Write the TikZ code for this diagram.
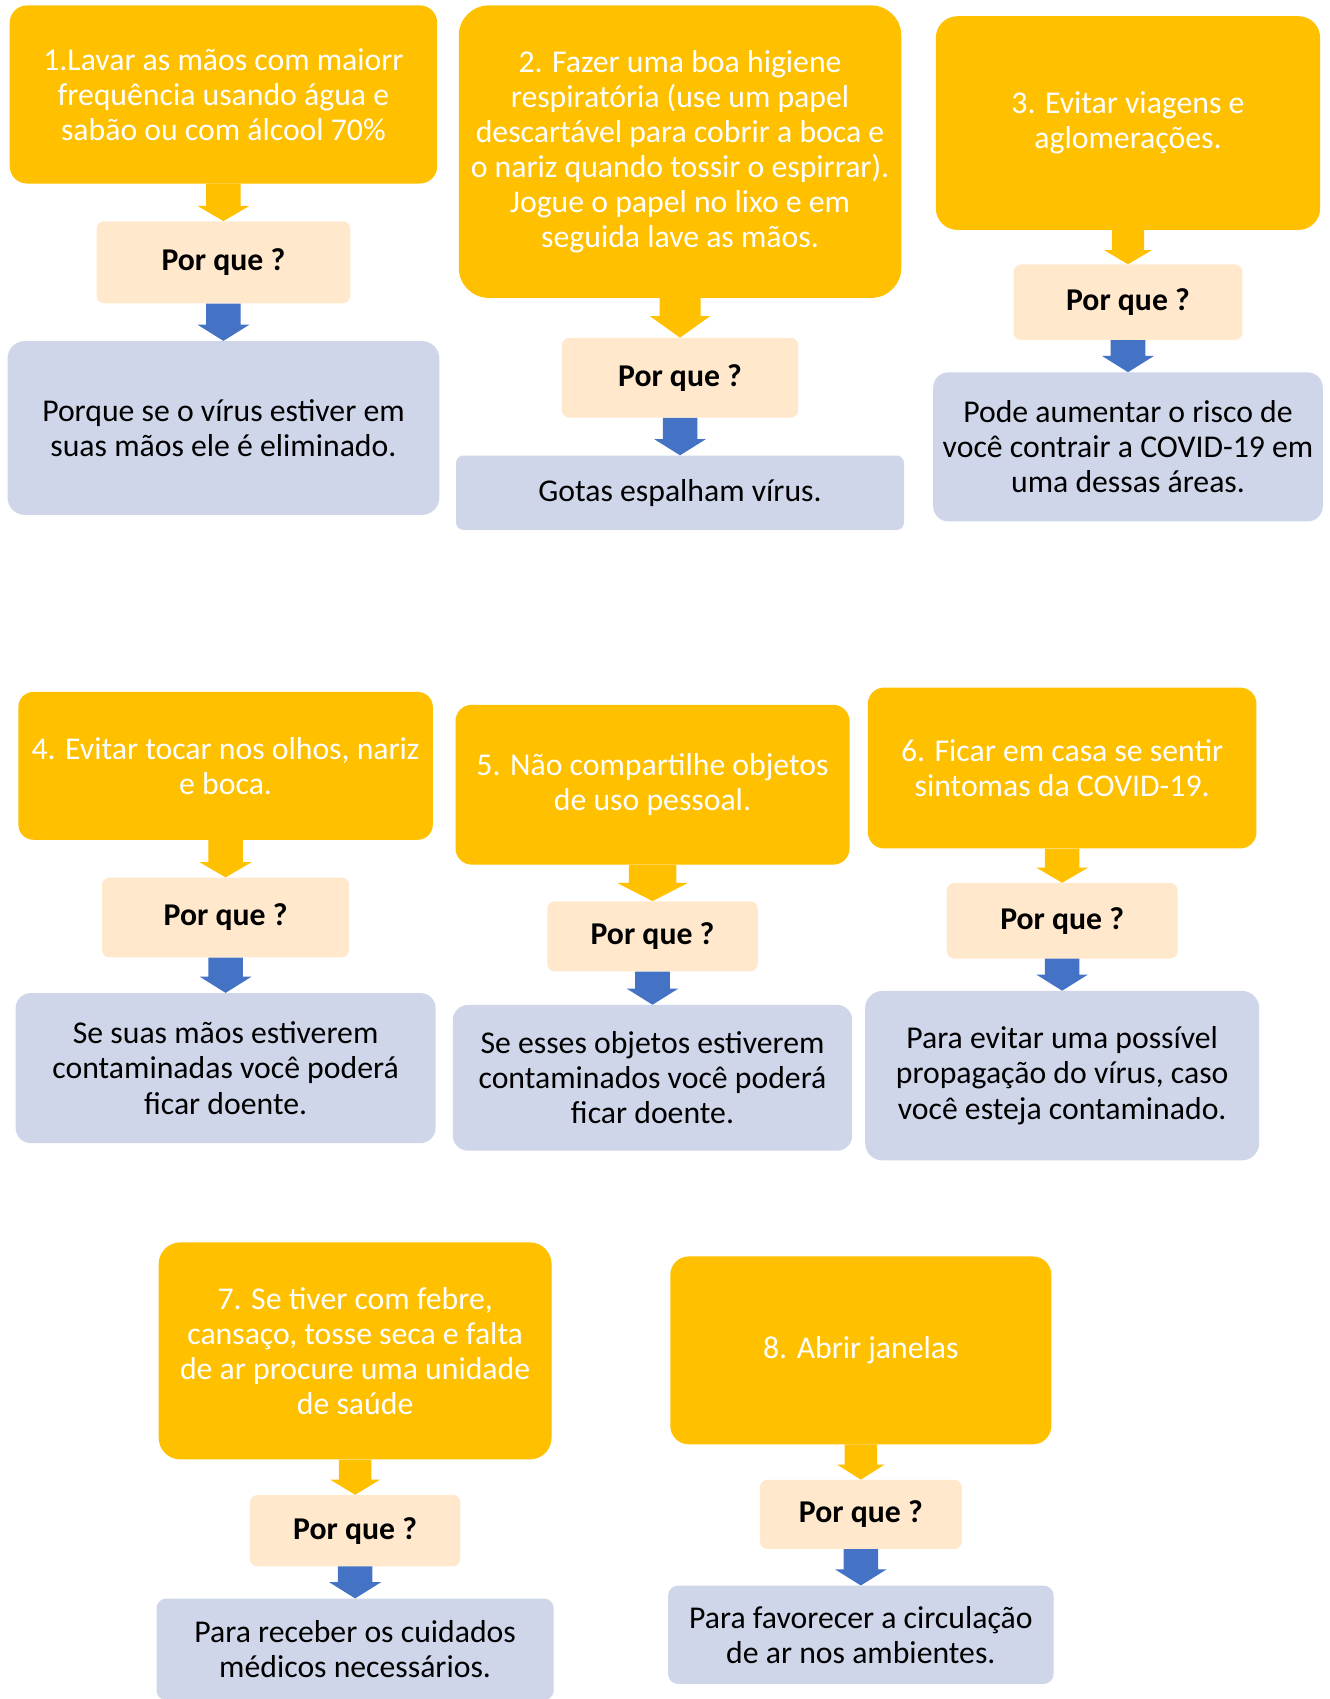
\documentclass[tikz,border=0pt]{standalone}
\usepackage{fontspec}
\setmainfont{Carlito}
\usetikzlibrary{calc}

\definecolor{ouro}{HTML}{FFC000}
\definecolor{pessego}{HTML}{FFE8CC}
\definecolor{cinzazul}{HTML}{D0D6EA}
\definecolor{azul}{HTML}{4472C4}

% block arrow: from, to, colour, half shaft, half head, head length
\newcommand{\seta}[6]{%
	\fill[#3] let \p1 = (#1.south), \p2 = (#2.north) in
		(\x1-#4pt,\y1) -- (\x1-#4pt,\y2+#6pt) -- (\x1-#5pt,\y2+#6pt) -- (\x1,\y2)
		-- (\x1+#5pt,\y2+#6pt) -- (\x1+#4pt,\y2+#6pt) -- (\x1+#4pt,\y1) -- cycle;}

\begin{document}
\begin{tikzpicture}[x=1pt, y=-1pt,
	texto/.style={align=center, inner sep=0pt, font=\fontsize{29.4}{32.5}\selectfont},
	medida/.style={texto, fill=ouro, text=white, rounded corners=#1},
	medida/.default=16pt,
	porque/.style={texto, fill=pessego, rounded corners=7pt, font=\fontsize{29.4}{32.5}\selectfont\bfseries},
	razao/.style={texto, fill=cinzazul, rounded corners=#1},
	razao/.default=14pt]

	\fill[white] (0,0) rectangle (1232,1574);
	\useasboundingbox (0,0) rectangle (1232,1574);

	% row 1
	\node[medida, minimum width=396pt, minimum height=165pt] (M1) at (207,87.5)
		{1.Lavar as mãos com maiorr\\frequência usando água e\\sabão ou com álcool 70\%};
	\node[porque, minimum width=235pt, minimum height=76pt] (P1) at (207,243) {Por que ?};
	\node[razao=16pt, minimum width=400pt, minimum height=161pt] (R1) at (207,396.5)
		{Porque se o vírus estiver em\\suas mãos ele é eliminado.};

	\node[medida=28pt, minimum width=410pt, minimum height=271pt] (M2) at (630,140.5)
		{2. Fazer uma boa higiene\\respiratória (use um papel\\descartável para cobrir a boca e\\o nariz quando tossir o espirrar).\\Jogue o papel no lixo e em\\seguida lave as mãos.};
	\node[porque, minimum width=219pt, minimum height=74pt] (P2) at (630,350) {Por que ?};
	\node[razao=7pt, minimum width=415pt, minimum height=69pt] (R2) at (630,456.5)
		{Gotas espalham vírus.};

	\node[medida=20pt, minimum width=356pt, minimum height=198pt] (M3) at (1045,114)
		{3. Evitar viagens e\\aglomerações.};
	\node[porque, minimum width=212pt, minimum height=70pt] (P3) at (1045,280) {Por que ?};
	\node[razao, minimum width=361pt, minimum height=138pt] (R3) at (1045,414)
		{Pode aumentar o risco de\\você contrair a COVID-19 em\\uma dessas áreas.};

	% row 2
	\node[medida=14pt, minimum width=384pt, minimum height=137pt] (M4) at (209,709.5)
		{4. Evitar tocar nos olhos, nariz\\e boca.};
	\node[porque, minimum width=229pt, minimum height=74pt] (P4) at (209,850) {Por que ?};
	\node[razao, minimum width=389pt, minimum height=139pt] (R4) at (209,989.5)
		{Se suas mãos estiverem\\contaminadas você poderá\\ficar doente.};

	\node[medida=15pt, minimum width=365pt, minimum height=148pt] (M5) at (604.5,727)
		{5. Não compartilhe objetos\\de uso pessoal.};
	\node[porque, minimum width=195pt, minimum height=65pt] (P5) at (604.5,867.5) {Por que ?};
	\node[razao, minimum width=370pt, minimum height=135pt] (R5) at (604.5,998.5)
		{Se esses objetos estiverem\\contaminados você poderá\\ficar doente.};

	\node[medida=15pt, minimum width=360pt, minimum height=149pt] (M6) at (984,711.5)
		{6. Ficar em casa se sentir\\sintomas da COVID-19.};
	\node[porque, minimum width=214pt, minimum height=70pt] (P6) at (984,853) {Por que ?};
	\node[razao=16pt, minimum width=365pt, minimum height=157pt] (R6) at (984,996.5)
		{Para evitar uma possível\\propagação do vírus, caso\\você esteja contaminado.};

	% row 3
	\node[medida=20pt, minimum width=364pt, minimum height=201pt] (M7) at (329,1251.5)
		{7. Se tiver com febre,\\cansaço, tosse seca e falta\\de ar procure uma unidade\\de saúde};
	\node[porque, minimum width=195pt, minimum height=66pt] (P7) at (329,1418) {Por que ?};
	\node[razao=9pt, minimum width=368pt, minimum height=94pt] (R7) at (329,1528)
		{Para receber os cuidados\\médicos necessários.};

	\node[medida=17pt, minimum width=353pt, minimum height=174pt] (M8) at (797.5,1251)
		{8. Abrir janelas};
	\node[porque, minimum width=187pt, minimum height=64pt] (P8) at (797.5,1403) {Por que ?};
	\node[razao=9pt, minimum width=357pt, minimum height=91pt] (R8) at (797.5,1514.5)
		{Para favorecer a circulação\\de ar nos ambientes.};

	% arrows
	\seta{M1}{P1}{ouro}{16}{24}{14}
	\seta{M2}{P2}{ouro}{19}{28}{20}
	\seta{M3}{P3}{ouro}{15}{22}{13}
	\seta{M4}{P4}{ouro}{16}{24}{14}
	\seta{M5}{P5}{ouro}{22}{33}{17}
	\seta{M6}{P6}{ouro}{16}{24}{14}
	\seta{M7}{P7}{ouro}{15}{23}{14}
	\seta{M8}{P8}{ouro}{15}{22}{14}
	\foreach \i in {1,...,8} {
		\seta{P\i}{R\i}{azul}{16}{24}{15}
	}
\end{tikzpicture}
\end{document}
